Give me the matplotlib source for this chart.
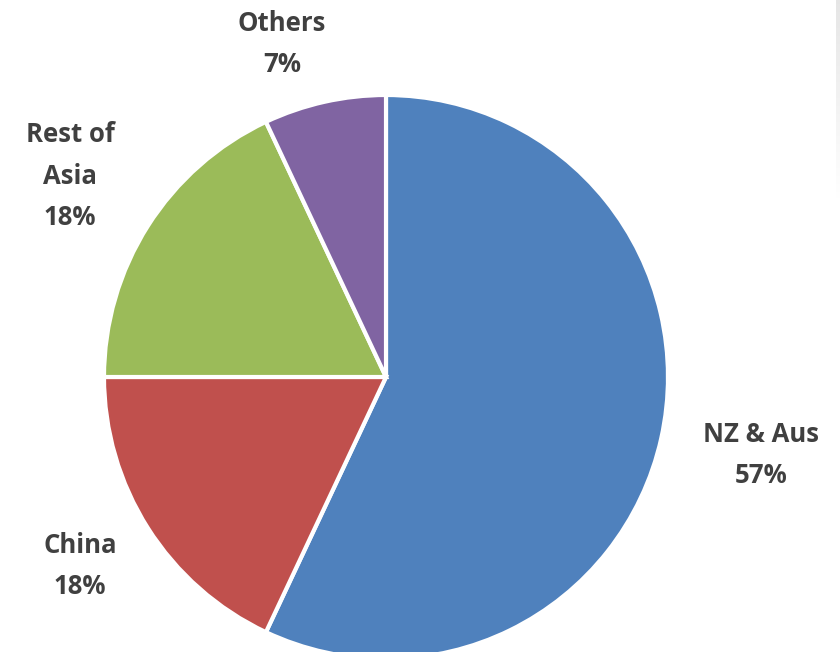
import matplotlib
matplotlib.use("Agg")
import matplotlib.pyplot as plt
import numpy as np

categories = ["NZ & Aus", "China", "Rest of\nAsia", "Others"]
shares = [57, 18, 18, 7]
colors = ["#4F81BD", "#C0504D", "#9BBB59", "#8064A2"]

W, H = 840, 652
fig = plt.figure(figsize=(W / 100, H / 100), dpi=100)
ax = fig.add_axes([0, 0, 1, 1])

cx, cy, r = 386, 377, 282
# y axis is inverted below, so start at -90 and go counterclockwise in data
ax.pie(shares, colors=colors, startangle=-90, counterclock=True,
       center=(cx, cy), radius=r, frame=True,
       wedgeprops=dict(edgecolor="white", linewidth=3))
ax.set_xlim(0, W)
ax.set_ylim(H, 0)
ax.set_aspect("equal")
ax.axis("off")

label_pos = [(761, 455), (80, 566), (70, 176), (282, 44)]
for cat, val, (x, y) in zip(categories, shares, label_pos):
    ax.text(x, y, f"{cat}\n{val}%", ha="center", va="center",
            fontsize=18.5, fontweight="bold", family="Open Sans", color="#404040",
            linespacing=1.68)

# subtle grey strip at right edge
grad = np.linspace(0.9, 1.0, 100).reshape(-1, 1)
fig.figimage(np.repeat(np.repeat(np.dstack([grad, grad, grad]), 4, axis=1), 2, axis=0),
             xo=836, yo=H - 200, origin="upper")

fig.savefig("out.png", dpi=100)
